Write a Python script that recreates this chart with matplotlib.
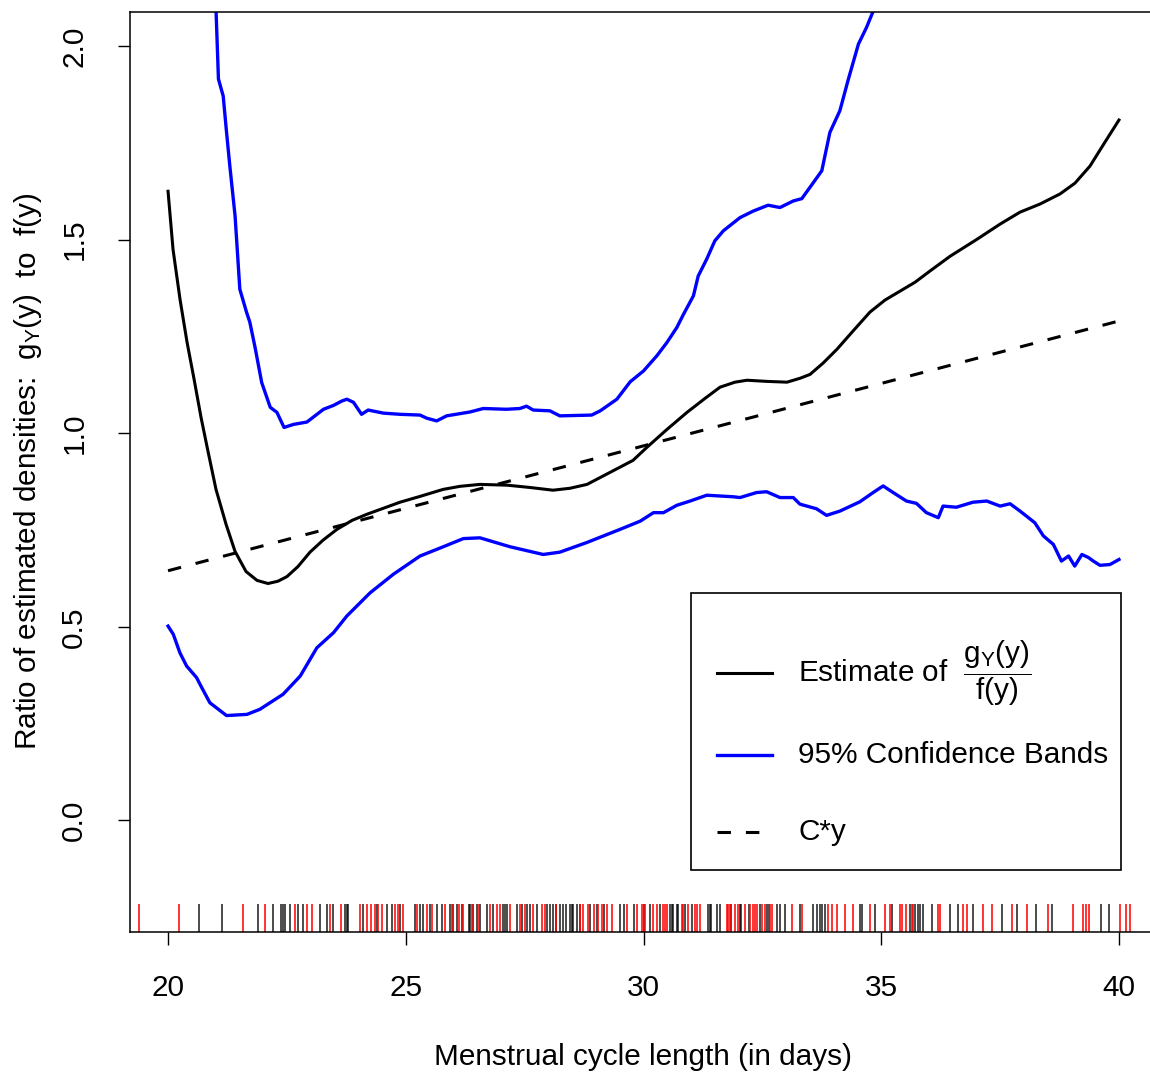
import matplotlib
matplotlib.use('Agg')
import matplotlib.pyplot as plt
from matplotlib.patches import Rectangle

plt.rcParams['font.family'] = ['Liberation Sans', 'DejaVu Sans']
plt.rcParams['mathtext.default'] = 'regular'
plt.rcParams['font.size'] = 21.4

# estimated ratio g_Y(y)/f(y)
est_x = [20.0, 20.105, 20.252, 20.4, 20.547, 20.694, 20.841, 21.009, 21.22, 21.409, 21.64,
         21.872, 22.103, 22.313, 22.503, 22.734, 22.986, 23.26, 23.554, 23.87, 24.185, 24.522,
         24.879, 25.3, 25.783, 26.141, 26.562, 27.129, 27.613, 28.097, 28.454, 28.812, 29.296,
         29.779, 30.074, 30.494, 30.915, 31.293, 31.609, 31.924, 32.177, 32.597, 33.018, 33.291,
         33.502, 33.775, 34.069, 34.406, 34.763, 35.079, 35.394, 35.71, 36.025, 36.446, 37.014,
         37.497, 37.918, 38.339, 38.759, 39.075, 39.39, 39.706, 40.0]
est_y = [1.625, 1.475, 1.346, 1.235, 1.14, 1.041, 0.953, 0.855, 0.765, 0.695, 0.643,
         0.62, 0.612, 0.618, 0.63, 0.656, 0.693, 0.724, 0.752, 0.775, 0.791, 0.806,
         0.822, 0.837, 0.855, 0.863, 0.868, 0.866, 0.86, 0.853, 0.858, 0.868, 0.899,
         0.93, 0.964, 1.01, 1.054, 1.09, 1.119, 1.132, 1.137, 1.134, 1.132, 1.142,
         1.152, 1.181, 1.217, 1.264, 1.313, 1.344, 1.367, 1.39, 1.419, 1.457, 1.501,
         1.54, 1.571, 1.592, 1.618, 1.646, 1.69, 1.752, 1.809]

# upper 95% band
upper_x = [21.01, 21.06, 21.16, 21.23, 21.3, 21.41, 21.51, 21.65, 21.72, 21.83, 21.97, 22.15,
           22.29, 22.44, 22.64, 22.92, 23.27, 23.48, 23.65, 23.76, 23.9, 24.07, 24.21, 24.53,
           24.88, 25.3, 25.44, 25.65, 25.86, 26.35, 26.63, 27.12, 27.4, 27.54, 27.68, 28.03,
           28.24, 28.91, 29.09, 29.44, 29.72, 30.0, 30.28, 30.49, 30.7, 30.84, 31.05, 31.15,
           31.33, 31.5, 31.68, 32.03, 32.31, 32.62, 32.87, 33.15, 33.33, 33.57, 33.75, 33.92,
           34.13, 34.31, 34.52, 34.69, 34.83]
upper_y = [2.09, 1.915, 1.871, 1.778, 1.69, 1.561, 1.372, 1.313, 1.287, 1.222, 1.131, 1.067,
           1.054, 1.015, 1.023, 1.029, 1.062, 1.072, 1.083, 1.088, 1.08, 1.049, 1.06, 1.052,
           1.049, 1.047, 1.039, 1.032, 1.045, 1.055, 1.064, 1.062, 1.064, 1.07, 1.06, 1.058,
           1.045, 1.047, 1.058, 1.088, 1.133, 1.161, 1.2, 1.234, 1.273, 1.307, 1.355, 1.406,
           1.45, 1.497, 1.523, 1.557, 1.574, 1.589, 1.583, 1.6, 1.606, 1.647, 1.678, 1.777,
           1.833, 1.915, 2.005, 2.048, 2.09]

# lower 95% band
lower_x = [20.0, 20.11, 20.25, 20.39, 20.6, 20.71, 20.88, 21.23, 21.66, 21.93, 22.42, 22.78,
           23.13, 23.48, 23.76, 24.25, 24.74, 25.3, 25.79, 26.21, 26.56, 27.19, 27.89, 28.24,
           28.81, 29.51, 29.93, 30.21, 30.42, 30.7, 30.98, 31.33, 31.61, 31.89, 32.03, 32.38,
           32.59, 32.87, 33.15, 33.29, 33.64, 33.85, 34.13, 34.55, 34.83, 35.04, 35.25, 35.53,
           35.74, 35.95, 36.2, 36.3, 36.58, 36.93, 37.22, 37.5, 37.71, 37.92, 38.23, 38.41,
           38.62, 38.79, 38.94, 39.07, 39.22, 39.36, 39.46, 39.6, 39.81, 40.0]
lower_y = [0.502, 0.481, 0.433, 0.399, 0.369, 0.343, 0.304, 0.271, 0.274, 0.287, 0.326, 0.373,
           0.446, 0.485, 0.528, 0.588, 0.636, 0.683, 0.707, 0.728, 0.73, 0.707, 0.687, 0.693,
           0.718, 0.752, 0.773, 0.795, 0.795, 0.814, 0.825, 0.84, 0.838, 0.836, 0.834, 0.847,
           0.849, 0.834, 0.834, 0.817, 0.805, 0.788, 0.799, 0.823, 0.847, 0.864, 0.847, 0.825,
           0.819, 0.795, 0.782, 0.812, 0.809, 0.822, 0.825, 0.812, 0.818, 0.799, 0.769, 0.735,
           0.713, 0.67, 0.683, 0.657, 0.687, 0.679, 0.67, 0.659, 0.661, 0.674]

# reference line C*y
C = 0.03225
line_range = [20, 40]

# observed cycle lengths (rug)
rug_black = [20.66, 21.13, 21.90, 22.20, 22.37, 22.41, 22.46, 22.57, 22.74, 22.83, 23.20, 23.34,
             23.46, 23.72, 23.76, 23.79, 24.11, 24.39, 24.60,
             24.70, 24.88, 25.19, 25.30, 25.37, 25.51, 25.65, 25.76, 25.93, 26.00, 26.07, 26.18,
             26.32, 26.35, 26.42, 26.49, 26.56, 26.70, 26.84, 27.05, 27.09, 27.12, 27.33, 27.44,
             27.54, 27.61, 27.75, 27.96, 28.03, 28.10, 28.17, 28.24, 28.31, 28.38, 28.45, 28.49,
             28.52, 28.60, 28.66, 28.88, 29.02, 29.16, 29.51, 29.58, 29.79, 30.00,
             30.14, 30.35, 30.56, 30.59, 30.63, 30.70, 30.73, 30.87, 31.01, 31.36, 31.40, 31.43,
             31.54, 31.61, 31.85, 32.03, 32.06, 32.21, 32.45, 32.59, 32.63, 32.80, 32.87, 32.98,
             33.29, 33.57, 33.64, 33.71, 33.75, 33.82, 34.55, 34.59, 34.87, 35.22,
             35.60, 35.71, 35.78, 35.81, 35.87, 36.06, 36.45, 36.62, 36.94, 37.53, 37.86, 38.25,
             38.60, 39.62, 39.80]
rug_red = [19.38, 20.24, 21.58, 22.04, 22.66, 22.92, 23.02, 23.41, 23.64, 24.04, 24.18, 24.26,
           24.35, 24.42, 24.49,
           24.77, 24.84, 24.95, 25.23, 25.44, 25.55, 25.83, 25.97, 26.11, 26.21, 26.39, 26.53,
           26.77, 26.91, 26.98, 27.19, 27.40, 27.51, 27.68, 27.86, 27.93, 28.17, 28.66, 28.73,
           28.84, 28.95, 29.05, 29.12, 29.23, 29.33, 29.65, 29.86, 29.96, 30.03,
           30.21, 30.28, 30.42, 30.45, 30.49, 30.80, 30.84, 30.94, 31.08, 31.12, 31.19, 31.75,
           31.78, 31.82, 31.92, 31.99, 32.14, 32.24, 32.31, 32.35, 32.38, 32.49, 32.56, 32.66,
           32.70, 33.12, 33.33, 33.89, 33.96, 34.06, 34.24, 34.41, 34.76, 35.08, 35.18,
           35.39, 35.43, 35.52, 35.64, 35.67, 36.20, 36.24, 36.73, 36.80, 37.15, 37.32, 37.74,
           38.07, 38.51, 39.04, 39.25, 39.31, 39.36, 40.02, 40.15, 40.23]

W, H = 1150, 1074
fig = plt.figure(figsize=(W / 100, H / 100), dpi=100)
ax = fig.add_axes([130 / W, 1 - 932 / H, 1027 / W, 920 / H])

dash = (4.4, 4.9)
ax.plot(est_x, est_y, color='black', lw=2.2, solid_joinstyle='round')
ax.plot(upper_x, upper_y, color='#0000ff', lw=2.4)
ax.plot(lower_x, lower_y, color='#0000ff', lw=2.4)
ax.plot(line_range, [C * v for v in line_range], color='black', lw=2.2, dashes=dash)

xa = ax.get_xaxis_transform()
ax.vlines(rug_black, 0, 0.03, transform=xa, colors='black', lw=1.4, alpha=0.7)
ax.vlines(rug_red, 0, 0.03, transform=xa, colors='red', lw=1.4, alpha=0.8)

ax.set_xlim(19.2, 40.8)
ax.set_ylim(-0.288, 2.088)
ax.set_xticks([20, 25, 30, 35, 40])
ax.set_yticks([0.0, 0.5, 1.0, 1.5, 2.0])
ax.set_yticklabels(['0.0', '0.5', '1.0', '1.5', '2.0'], rotation=90, va='center')
ax.tick_params(length=9, width=1, pad=21)
for s in ax.spines.values():
    s.set_linewidth(1.1)

fig.text(643.5 / W, 1 - 1057 / H, 'Menstrual cycle length (in days)', ha='center', va='center')
fig.text(28 / W, 1 - 471 / H, r'Ratio of estimated densities:  $g_Y(y)$  to  f(y)',
         rotation=90, ha='center', va='center')

# legend box
ta = ax.transAxes
ax.add_patch(Rectangle((0.5463, 0.0674), 0.4185, 0.3011, transform=ta, facecolor='white',
                       edgecolor='black', lw=1.2, zorder=5))
rows = [0.2815, 0.1924, 0.1087]
hx = [(717 - 130) / 1027, (772 - 130) / 1027]
tx = (798 - 130) / 1027
ax.plot(hx, [rows[0]] * 2, transform=ta, color='black', lw=2.2, zorder=6)
ax.plot(hx, [rows[1]] * 2, transform=ta, color='#0000ff', lw=2.4, zorder=6)
ax.plot(hx, [rows[2]] * 2, transform=ta, color='black', lw=2.2, dashes=dash, zorder=6)
ax.text(tx, rows[0], r'Estimate of  $\dfrac{g_Y(y)}{f(y)}$', transform=ta, va='center', zorder=6)
ax.text(tx, rows[1], '95% Confidence Bands', transform=ta, va='center', zorder=6)
ax.text(tx, rows[2], 'C*y', transform=ta, va='center', zorder=6)

fig.savefig('out.png', dpi=100)
